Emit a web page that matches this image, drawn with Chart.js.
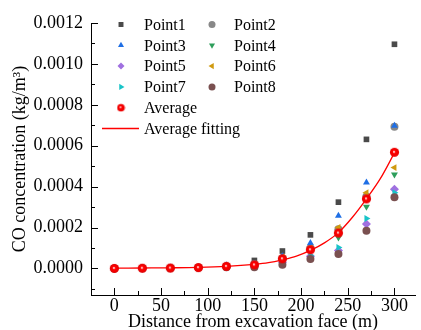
<!DOCTYPE html>
<html>
<head>
<meta charset="utf-8">
<title>CO concentration</title>
<script src="https://cdn.jsdelivr.net/npm/chart.js@4"></script>
<style>
  html, body { margin: 0; padding: 0; background: #fff; }
  #wrap { width: 421px; height: 330px; }
</style>
</head>
<body>
<div id="wrap"><canvas id="coChart" width="421" height="330"></canvas></div>
<script>
// distance from excavation face (m)
const distances = [0, 30, 60, 90, 120, 150, 180, 210, 240, 270, 300];

// CO concentration (kg/m3) at each monitoring point
const point1 = [0, 0.000001, 0.000002, 0.000004, 0.000012, 0.000039, 0.000085, 0.000164, 0.000324, 0.000631, 0.001096];
const point2 = [0, 0.000001, 0.000002, 0.000004, 0.000010, 0.000020, 0.000050, 0.000100, 0.000192, 0.000352, 0.000693];
const point3 = [0, 0.000001, 0.000002, 0.000005, 0.000016, 0.000022, 0.000060, 0.000124, 0.000257, 0.000420, 0.000698];
const point4 = [0, 0.000001, 0.000002, 0.000004, 0.000009, 0.000015, 0.000050, 0.000090, 0.000151, 0.000302, 0.000459];
const point5 = [0, 0.000001, 0.000002, 0.000003, 0.000008, 0.000010, 0.000030, 0.000060, 0.000088, 0.000217, 0.000387];
const point6 = [0, 0.000001, 0.000002, 0.000004, 0.000010, 0.000018, 0.000055, 0.000100, 0.000200, 0.000370, 0.000493];
const point7 = [0, 0.000001, 0.000002, 0.000003, 0.000008, 0.000012, 0.000040, 0.000063, 0.000102, 0.000244, 0.000370];
const point8 = [0, 0.000001, 0.000001, 0.000003, 0.000006, 0.000006, 0.000018, 0.000046, 0.000070, 0.000184, 0.000348];
const average = [0, 0.000001, 0.000002, 0.000004, 0.000010, 0.000017, 0.000047, 0.000091, 0.000173, 0.000340, 0.000568];

// fitted curve through the averages
const fitX = [0, 30, 60, 90, 120, 150, 165, 180, 195, 210, 225, 240, 255, 270, 285, 300];
const fitY = [0.000001, 0.000002, 0.000003, 0.000005, 0.00001, 0.00002, 0.000028, 0.000042, 0.00006, 0.000088, 0.000125, 0.000175, 0.00025, 0.00034, 0.00044, 0.000565];

const xTicks = [0, 50, 100, 150, 200, 250, 300];
const yTicks = [0, 0.0002, 0.0004, 0.0006, 0.0008, 0.0010, 0.0012];

const pts = (ys) => distances.map((d, i) => ({ x: d, y: ys[i] }));

// shiny red ball used for the average markers
function makeBall(r) {
  const size = Math.ceil(r * 2) + 1;
  const c = document.createElement('canvas');
  c.width = c.height = size;
  const g = c.getContext('2d');
  const cx = size / 2;
  const grad = g.createRadialGradient(cx - 0.6, cx - 0.6, 0, cx, cx, r);
  grad.addColorStop(0, '#ffffff');
  grad.addColorStop(0.15, '#ffb0b0');
  grad.addColorStop(0.35, '#ff0000');
  grad.addColorStop(1, '#e80000');
  g.fillStyle = grad;
  g.beginPath();
  g.arc(cx, cx, r, 0, Math.PI * 2);
  g.fill();
  return c;
}
const ball = makeBall(4.6);
const smallBall = makeBall(3.8);

function series(label, data, color, style, rot, order) {
  return {
    label: label,
    data: pts(data),
    pointStyle: style,
    rotation: rot || 0,
    pointRadius: style === 'rectRot' ? 4.5 : 4,
    backgroundColor: color,
    borderColor: color,
    borderWidth: 0,
    showLine: false,
    order: order
  };
}

const datasets = [
  series('Point1', point1, '#4a4a4a', 'rect', 0, 9),
  series('Point2', point2, '#888888', 'circle', 0, 8),
  series('Point3', point3, '#1f6fe5', 'triangle', 0, 7),
  series('Point4', point4, '#2e9e5b', 'triangle', 180, 6),
  series('Point5', point5, '#a070e0', 'rectRot', 0, 5),
  series('Point6', point6, '#d09a10', 'triangle', 270, 4),
  series('Point7', point7, '#18c4c8', 'triangle', 90, 3),
  series('Point8', point8, '#7a5050', 'circle', 0, 2),
  {
    label: 'Average',
    data: pts(average),
    pointStyle: ball,
    pointRadius: 5,
    backgroundColor: '#ff0000',
    borderColor: '#ff0000',
    showLine: false,
    order: 0
  },
  {
    label: 'Average fitting',
    data: fitX.map((x, i) => ({ x: x, y: fitY[i] })),
    showLine: true,
    borderColor: '#ff0000',
    borderWidth: 1.3,
    pointRadius: 0,
    cubicInterpolationMode: 'monotone',
    order: 1
  }
];

// inward major/minor tick marks, like the original plotting package
const innerTicks = {
  id: 'innerTicks',
  afterDraw(chart) {
    const ctx = chart.ctx, xs = chart.scales.x, ys = chart.scales.y;
    const a = chart.chartArea;
    ctx.save();
    ctx.strokeStyle = '#000';
    ctx.lineWidth = 1;
    ctx.beginPath();
    for (let v = -25; v <= 325; v += 25) {
      const px = Math.round(xs.getPixelForValue(v)) + 0.5;
      if (px < a.left || px > a.right) continue;
      const len = v % 50 === 0 ? 7 : 4;
      ctx.moveTo(px, a.bottom);
      ctx.lineTo(px, a.bottom - len);
    }
    for (let k = -1; k <= 12; k++) {
      const v = k * 0.0001;
      const py = Math.round(ys.getPixelForValue(v)) + 0.5;
      if (py < a.top - 1 || py > a.bottom) continue;
      const len = k % 2 === 0 ? 7 : 4;
      ctx.moveTo(a.left, py);
      ctx.lineTo(a.left + len, py);
    }
    ctx.stroke();
    ctx.restore();
  }
};

// two-column legend drawn inside the plot area
const innerLegend = {
  id: 'innerLegend',
  afterDraw(chart) {
    const ctx = chart.ctx, a = chart.chartArea;
    const colMarker = [a.left + 30, a.left + 121];
    const colText = [a.left + 53, a.left + 143];
    const rowH = 20.8;
    const y0 = a.top + 1.5;
    ctx.save();
    ctx.font = '16px "Liberation Serif", "Times New Roman", serif';
    ctx.fillStyle = '#000';
    ctx.textBaseline = 'middle';
    chart.data.datasets.forEach((ds, i) => {
      let col, row;
      if (i < 8) { col = i % 2; row = Math.floor(i / 2); }
      else { col = 0; row = i - 4; }
      const y = y0 + row * rowH;
      if (ds.showLine) {
        ctx.strokeStyle = ds.borderColor;
        ctx.lineWidth = 1.3;
        ctx.beginPath();
        ctx.moveTo(a.left + 11, y);
        ctx.lineTo(a.left + 48, y);
        ctx.stroke();
      } else {
        ctx.fillStyle = ds.backgroundColor;
        ctx.strokeStyle = ds.backgroundColor;
        Chart.helpers.drawPoint(ctx, {
          pointStyle: ds.pointStyle === ball ? smallBall : ds.pointStyle,
          rotation: ds.rotation || 0,
          radius: 3.5,
          borderWidth: 0
        }, colMarker[col], y);
      }
      ctx.fillStyle = '#000';
      ctx.fillText(ds.label, colText[col], y + 1);
    });
    ctx.restore();
  }
};

Chart.defaults.font.family = '"Liberation Serif", "Times New Roman", serif';
Chart.defaults.font.size = 18;
Chart.defaults.color = '#000';

new Chart(document.getElementById('coChart').getContext('2d'), {
  type: 'scatter',
  data: { datasets: datasets },
  plugins: [innerTicks, innerLegend],
  options: {
    responsive: false,
    animation: false,
    layout: { padding: { top: 23, right: 0, left: 0, bottom: 0 } },
    plugins: {
      legend: { display: false },
      tooltip: { enabled: false }
    },
    scales: {
      x: {
        type: 'linear',
        min: -25,
        max: 322,
        grid: { display: false, drawTicks: false },
        border: { display: true, color: '#000', width: 1 },
        afterBuildTicks: (s) => { s.ticks = xTicks.map(v => ({ value: v })); },
        afterFit: (s) => { s.height = 35; },
        ticks: { padding: 0, maxRotation: 0, font: { size: 18 } },
        title: {
          display: true,
          text: 'Distance from excavation face (m)',
          font: { size: 18 },
          padding: { top: 0, bottom: -3 }
        }
      },
      y: {
        type: 'linear',
        min: -0.00013,
        max: 0.0012,
        grid: { display: false, drawTicks: false },
        border: { display: true, color: '#000', width: 1 },
        afterBuildTicks: (s) => { s.ticks = yTicks.map(v => ({ value: v })); },
        afterFit: (s) => { s.width = 91; },
        ticks: {
          padding: 8,
          font: { size: 18 },
          callback: (v) => Number(v).toFixed(4)
        },
        title: {
          display: true,
          text: 'CO concentration (kg/m\u00B3)',
          font: { size: 18 },
          padding: { top: 9, bottom: 0 }
        }
      }
    }
  }
});
</script>
</body>
</html>
